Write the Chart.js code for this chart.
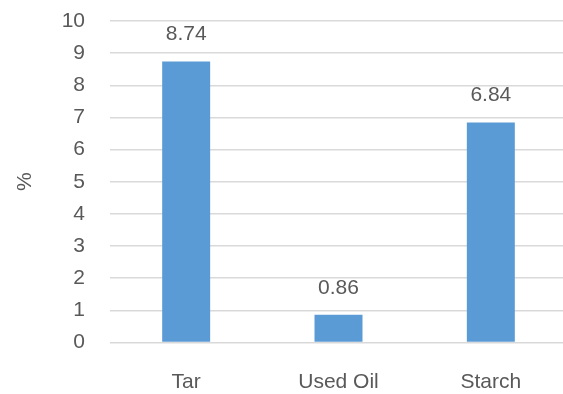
<!DOCTYPE html>
<html>
<head>
<meta charset="utf-8">
<script src="https://cdn.jsdelivr.net/npm/chart.js@4"></script>
<style>
  html, body { margin: 0; padding: 0; background: #fff; overflow: hidden; }
  #wrap { width: 563px; height: 394px; overflow: hidden; }
  #box { width: 567px; height: 394px; }
</style>
</head>
<body>
<div id="wrap"><div id="box"><canvas id="barChart"></canvas></div></div>
<script>
// Categories and values
const categories = ['Tar', 'Used Oil', 'Starch'];
const values = [8.74, 0.86, 6.84];
const yTicks = [0, 1, 2, 3, 4, 5, 6, 7, 8, 9, 10];

const textColor = '#595959';
const fontFamily = '"Liberation Sans", Arial, sans-serif';

// Value labels above each bar
const valueLabels = {
    id: 'valueLabels',
    afterDatasetsDraw(chart) {
        const ctx = chart.ctx;
        const meta = chart.getDatasetMeta(0);
        ctx.save();
        ctx.font = '21px ' + fontFamily;
        ctx.fillStyle = textColor;
        ctx.textAlign = 'center';
        ctx.textBaseline = 'middle';
        meta.data.forEach((bar, i) => {
            ctx.fillText(values[i].toFixed(2), bar.x, bar.y - 27);
        });
        ctx.restore();
    }
};

const ctx = document.getElementById('barChart').getContext('2d');
new Chart(ctx, {
    type: 'bar',
    data: {
        labels: categories,
        datasets: [{
            data: values,
            backgroundColor: '#5B9BD5',
            borderWidth: 0,
            barPercentage: 0.315,
            categoryPercentage: 1
        }]
    },
    options: {
        responsive: true,
        maintainAspectRatio: false,
        animation: false,
        layout: { padding: { top: 21, right: 0, bottom: 0, left: 0 } },
        plugins: {
            legend: { display: false },
            tooltip: { enabled: false }
        },
        scales: {
            x: {
                grid: { display: false, drawTicks: false },
                border: { display: false },
                ticks: {
                    color: textColor,
                    font: { family: fontFamily, size: 21 },
                    padding: 27
                },
                afterFit(scale) { scale.height = 51.5; }
            },
            y: {
                min: 0,
                max: 10,
                afterBuildTicks(scale) {
                    scale.ticks = yTicks.map(v => ({ value: v }));
                },
                // invisible tick marks keep the labels away from the plot
                grid: { color: '#D9D9D9', lineWidth: 1.5, drawTicks: true, tickLength: 25, tickColor: 'rgba(0,0,0,0)' },
                border: { display: false },
                ticks: {
                    color: textColor,
                    font: { family: fontFamily, size: 21 },
                    padding: 0
                },
                title: {
                    display: true,
                    text: '%',
                    color: textColor,
                    font: { family: fontFamily, size: 21 },
                    padding: { top: 13, bottom: 0 }
                },
                afterFit(scale) { scale.width = 110; }
            }
        }
    },
    plugins: [valueLabels]
});
</script>
</body>
</html>
